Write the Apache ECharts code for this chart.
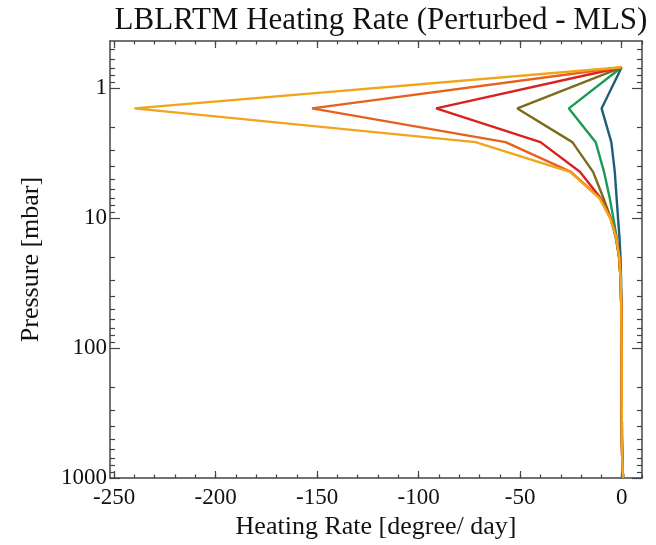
<!DOCTYPE html>
<html>
<head>
<meta charset="utf-8">
<script src="https://cdn.jsdelivr.net/npm/echarts@6/dist/echarts.min.js"></script>
<style>html,body{margin:0;padding:0;background:#fff}#c{width:656px;height:545px}</style>
</head>
<body>
<div id="c"></div>
<script>
// Pressure levels (mbar)
const pressure = [0.69, 1.43, 2.6, 4.4, 7.0, 10, 14, 20, 30, 50, 100, 200, 300, 500, 700, 850, 1000];
// Heating rate differences (degree/day) for each perturbation
const hrTeal    = [0, -9.9,  -5.1, -3.4, -2.5, -1.8, -1.1, -0.6, -0.3, -0.15, -0.05, 0, 0.05, 0.1, 0.25, 0.45, 0.7];
const hrGreen   = [0, -26,  -12.8, -8.7, -5.9, -4.1, -2.5, -1.3, -0.5, -0.2, -0.05, 0, 0.05, 0.1, 0.25, 0.45, 0.7];
const hrOlive   = [0, -51.4, -24.3, -14.1, -9.0, -5.4, -3.0, -1.3, -0.5, -0.2, -0.05, 0, 0.05, 0.1, 0.25, 0.45, 0.7];
const hrRed     = [0, -91.4, -40, -20.6, -10.4, -5.4, -2.8, -1.2, -0.5, -0.2, -0.05, 0, 0.05, 0.1, 0.25, 0.45, 0.7];
const hrOrange  = [0, -152.5, -57.2, -25, -10.7, -5.5, -2.7, -1.2, -0.5, -0.2, -0.05, 0, 0.05, 0.1, 0.25, 0.45, 0.7];
const hrYellow  = [0, -240, -72, -25.5, -11, -5.7, -2.8, -1.2, -0.5, -0.2, -0.05, 0, 0.05, 0.1, 0.25, 0.45, 0.7];

const seriesNames = ['p1', 'p2', 'p3', 'p4', 'p5', 'p6'];
const seriesColors = ['#1f5d78', '#1a9b55', '#7a6c1c', '#d8221c', '#e5621e', '#f0a51a'];
const seriesValues = [hrTeal, hrGreen, hrOlive, hrRed, hrOrange, hrYellow];

// Tick values
const xMajor = [-250, -200, -150, -100, -50, 0];
const xMinor = [-250, -240, -230, -220, -210, -200, -190, -180, -170, -160, -150, -140, -130, -120, -110, -100, -90, -80, -70, -60, -50, -40, -30, -20, -10, 0, 10];
const yMajor = [1, 10, 100, 1000];
const yMinor = [0.5, 0.6, 0.7, 0.8, 0.9, 2, 3, 4, 5, 6, 7, 8, 9, 20, 30, 40, 50, 60, 70, 80, 90, 200, 300, 400, 500, 600, 700, 800, 900];

const X_MIN = -252, X_MAX = 10, Y_MIN = 0.433, Y_MAX = 1000;
const FONT = '"Liberation Serif", "DejaVu Serif", serif';
const AX = '#444';

function fmt(v) { return String(Math.round(v * 1000) / 1000); }

function xAx(pos, ticks, len, withLine, withLabel) {
  return {
    type: 'value', min: X_MIN, max: X_MAX, position: pos,
    axisLine: { show: withLine, onZero: false, lineStyle: { color: AX, width: 1.5 } },
    axisTick: { show: true, inside: true, length: len, customValues: ticks, lineStyle: { color: AX, width: 1.2 } },
    axisLabel: withLabel ? { show: true, customValues: xMajor, formatter: fmt, color: '#111', fontFamily: FONT, fontSize: 23, margin: 8 } : { show: false },
    splitLine: { show: false },
    name: withLabel ? 'Heating Rate [degree/ day]' : '',
    nameLocation: 'middle', nameGap: 28,
    nameTextStyle: { color: '#111', fontFamily: FONT, fontSize: 26 }
  };
}
function yAx(pos, ticks, len, withLine, withLabel) {
  return {
    type: 'log', logBase: 10, min: Y_MIN, max: Y_MAX, inverse: true, position: pos,
    axisLine: { show: withLine, onZero: false, lineStyle: { color: AX, width: 1.5 } },
    axisTick: { show: true, inside: true, length: len, customValues: ticks, lineStyle: { color: AX, width: 1.2 } },
    axisLabel: withLabel ? { show: true, customValues: yMajor, formatter: fmt, color: '#111', fontFamily: FONT, fontSize: 23, margin: 3 } : { show: false },
    splitLine: { show: false },
    minorTick: { show: false },
    name: withLabel ? 'Pressure [mbar]' : '',
    nameLocation: 'middle', nameGap: 66, nameRotate: 90,
    nameTextStyle: { color: '#111', fontFamily: FONT, fontSize: 26 }
  };
}

const chart = echarts.init(document.getElementById('c'), null, { renderer: 'canvas' });
chart.setOption({
  backgroundColor: '#ffffff',
  animation: false,
  title: {
    text: 'LBLRTM Heating Rate (Perturbed - MLS)',
    left: 376, top: 0, textAlign: 'center',
    textStyle: { fontFamily: FONT, fontSize: 31, fontWeight: 'normal', color: '#111' }
  },
  grid: { left: 110, right: 14, top: 41, bottom: 67, containLabel: false },
  xAxis: [
    xAx('bottom', xMajor, 7, true, true),
    xAx('bottom', xMinor, 3.5, false, false),
    xAx('top', xMajor, 7, true, false),
    xAx('top', xMinor, 3.5, false, false)
  ],
  yAxis: [
    yAx('left', yMajor, 10, true, true),
    yAx('left', yMinor, 5, false, false),
    yAx('right', yMajor, 10, true, false),
    yAx('right', yMinor, 5, false, false)
  ],
  series: seriesValues.map((vals, i) => ({
    name: seriesNames[i],
    type: 'line',
    xAxisIndex: 0, yAxisIndex: 0,
    data: vals.map((v, j) => [v, pressure[j]]),
    showSymbol: false, symbol: 'none',
    lineStyle: { color: seriesColors[i], width: 2.4 },
    itemStyle: { color: seriesColors[i] },
    z: 2 + i
  }))
});
</script>
</body>
</html>
